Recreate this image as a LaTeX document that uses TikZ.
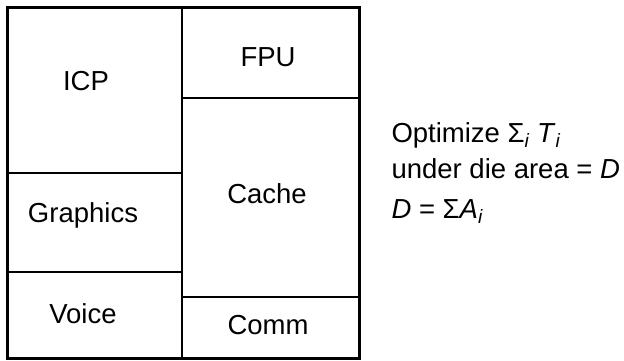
\documentclass[tikz,border=0pt]{standalone}
\usepackage{fontspec}
\setmainfont{Liberation Sans}
\newcommand{\sub}[1]{\textsubscript{\itshape #1}}
\begin{document}
\begin{tikzpicture}[x=1pt,y=-1pt,
        block/.style={font=\fontsize{27.5}{33}\selectfont, anchor=base},
        note/.style={font=\fontsize{27.5}{33}\selectfont, anchor=base west},
        split/.style={line width=1.2pt}]
    \useasboundingbox (0,0) rectangle (624,360);
    % floorplan dividers
    \draw[split] (182,7) -- (182,358);
    \draw[split] (7,173) -- (182,173);
    \draw[split] (7,272) -- (182,272);
    \draw[split] (182,98) -- (359,98);
    \draw[split] (182,297) -- (359,297);
    \draw[line width=3pt] (7,7) rectangle (359,358);
    % blocks
    \node[block] (icp) at (86,90) {ICP};
    \node[block] (graphics) at (83,222) {Graphics};
    \node[block] (voice) at (83,323) {Voice};
    \node[block] (fpu) at (268,66) {FPU};
    \node[block] (cache) at (267,203) {Cache};
    \node[block] (comm) at (268,334) {Comm};
    % objective
    \node[note] (goal) at (388,142) {Optimize Σ\sub{i} \textit{T}\sub{i}};
    \node[note] (area) at (388,178) {under die area = \textit{D}};
    \node[note] (sum) at (388,218) {\textit{D} = Σ\textit{A}\sub{i}};
\end{tikzpicture}
\end{document}
